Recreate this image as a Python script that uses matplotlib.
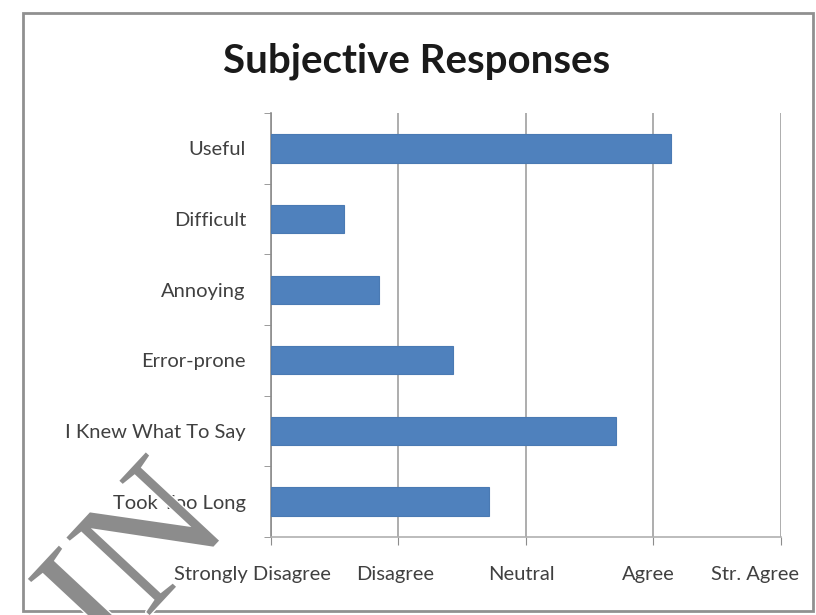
import matplotlib.pyplot as plt
from matplotlib.patches import Rectangle
from matplotlib.transforms import ScaledTranslation
import matplotlib.patheffects as pe

categories = ['Useful', 'Difficult', 'Annoying', 'Error-prone',
              'I Knew What To Say', 'Took Too Long']
scores = [4.14, 1.57, 1.85, 2.43, 3.71, 2.71]
scale_labels = ['Strongly Disagree', 'Disagree', 'Neutral', 'Agree', 'Str. Agree']
scale_values = [1, 2, 3, 4, 5]

plt.rcParams['font.family'] = ['Lato', 'DejaVu Sans']

fig = plt.figure(figsize=(8.16, 6.15), dpi=100)
ax = fig.add_axes([0.332, 0.127, 0.625, 0.689])

ypos = list(range(len(categories)))
# bars start at the left edge of the scale (1 = strongly disagree)
ax.barh(ypos, [s - 1 for s in scores], left=1, height=0.4,
        color='#4f81bd', edgecolor='#4a7ab3', linewidth=0.8, zorder=3)

ax.set_xlim(1, 5)
ax.set_ylim(len(categories) - 0.5, -0.5)
ax.set_xticks(scale_values)
ax.set_xticklabels(scale_labels, fontsize=14.5, color='#404040')
ax.set_yticks(ypos)
ax.set_yticklabels(categories, fontsize=14.5, color='#404040')
ax.set_yticks([i - 0.5 for i in range(len(categories) + 1)], minor=True)
ax.tick_params(axis='y', which='major', length=0, pad=18)
ax.tick_params(axis='y', which='minor', length=5, color='#8c8c8c')
ax.tick_params(axis='x', length=6, color='#8c8c8c', pad=15)

# excel nudges the outer labels inwards so they fit
shifts_px = [-18, -3, -4, -5, -26]
for lab, dx in zip(ax.get_xticklabels(), shifts_px):
    lab.set_transform(lab.get_transform() + ScaledTranslation(dx / 100, 0, fig.dpi_scale_trans))

ax.grid(axis='x', color='#a0a0a0', linewidth=1.2, zorder=0)
for side in ['top', 'right']:
    ax.spines[side].set_visible(False)
ax.spines['left'].set_color('#8c8c8c')
ax.spines['bottom'].set_color('#b0b0b0')
ax.spines['left'].set_linewidth(1.2)
ax.spines['bottom'].set_linewidth(1.2)

fig.text(0.511, 0.9, 'Subjective Responses', ha='center', va='center',
         fontsize=29, fontweight='bold', color='#1a1a1a')

fig.patches.append(Rectangle((0.028, 0.0065), 0.968, 0.972, transform=fig.transFigure,
                             fill=False, edgecolor='#909090', linewidth=2))

# watermark fragment in the lower left corner
fig.text(-0.1, -0.29, 'T IN', rotation=47, fontsize=125, family='Liberation Serif',
         color='#8c8c8c', ha='left', va='bottom',
         path_effects=[pe.withStroke(linewidth=2, foreground='white')])

fig.savefig('out.png', dpi=100)
